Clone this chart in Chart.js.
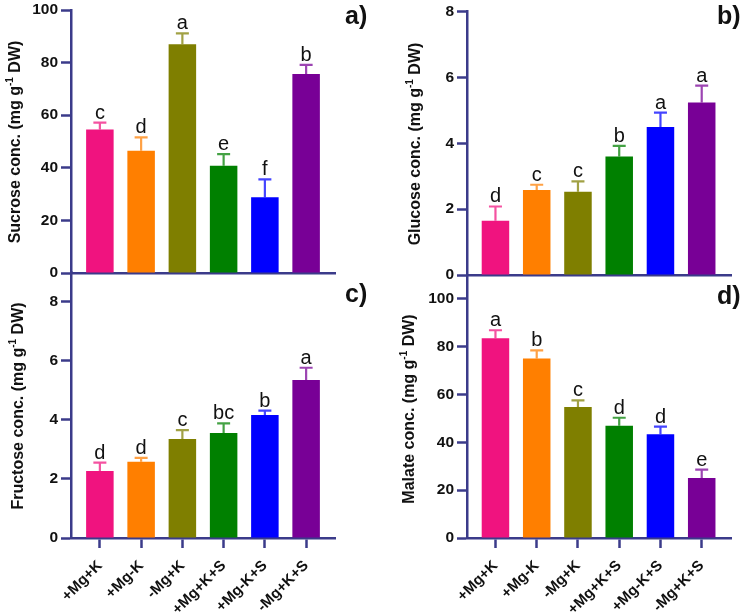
<!DOCTYPE html>
<html>
<head>
<meta charset="utf-8">
<script src="https://cdn.jsdelivr.net/npm/chart.js@4.4.0/dist/chart.umd.min.js"></script>
<style>
    html, body { margin: 0; padding: 0; background: #fff; }
    #wrap { position: relative; width: 744px; height: 615px; }
    #wrap canvas { position: absolute; left: 0; top: 0; }
</style>
</head>
<body>
<div id="wrap">
    <canvas id="chartA" width="744" height="615"></canvas>
    <canvas id="chartB" width="744" height="615"></canvas>
    <canvas id="chartC" width="744" height="615"></canvas>
    <canvas id="chartD" width="744" height="615"></canvas>
</div>
<script>
const treatments = ['+Mg+K', '+Mg-K', '-Mg+K', '+Mg+K+S', '+Mg-K+S', '-Mg+K+S'];
const barColors = ['#f0137f', '#ff7f00', '#7f7f00', '#008000', '#0000ff', '#780096'];

// a) sucrose
const sucrose = [54.6, 46.5, 87.0, 40.8, 28.8, 75.7];
const sucroseSd = [2.6, 5.1, 4.1, 4.4, 6.8, 3.4];
const sucroseLetters = ['c', 'd', 'a', 'e', 'f', 'b'];
const sucroseTicks = [0, 20, 40, 60, 80, 100];

// b) glucose
const glucose = [1.65, 2.58, 2.53, 3.60, 4.49, 5.24];
const glucoseSd = [0.43, 0.16, 0.31, 0.32, 0.44, 0.51];
const glucoseLetters = ['d', 'c', 'c', 'b', 'a', 'a'];
const glucoseTicks = [0, 2, 4, 6, 8];

// c) fructose
const fructose = [2.27, 2.58, 3.35, 3.55, 4.16, 5.35];
const fructoseSd = [0.28, 0.13, 0.30, 0.33, 0.15, 0.41];
const fructoseLetters = ['d', 'd', 'c', 'bc', 'b', 'a'];
const fructoseTicks = [0, 2, 4, 6, 8];

// d) malate
const malate = [83.5, 75.1, 54.8, 47.0, 43.4, 25.1];
const malateSd = [3.4, 3.4, 2.8, 3.3, 3.2, 3.5];
const malateLetters = ['a', 'b', 'c', 'd', 'd', 'e'];
const malateTicks = [0, 20, 40, 60, 80, 100];

const AXIS = '#3b3b8a';
const FONT = 'Arial, "Liberation Sans", sans-serif';
const Y_W = 60;
const X_H = 75;

function drawYTitle(ctx, cx, cy, before, sup, after) {
    ctx.save();
    ctx.translate(cx, cy);
    ctx.rotate(-Math.PI / 2);
    ctx.fillStyle = '#111';
    ctx.textBaseline = 'middle';
    ctx.textAlign = 'left';
    const big = `bold 16px ${FONT}`;
    const small = `bold 10px ${FONT}`;
    ctx.font = big;
    const w1 = ctx.measureText(before).width;
    const w3 = ctx.measureText(after).width;
    ctx.font = small;
    const w2 = ctx.measureText(sup).width;
    let x = -(w1 + w2 + w3) / 2;
    ctx.font = big;
    ctx.fillText(before, x, 0);
    x += w1;
    ctx.font = small;
    ctx.fillText(sup, x, -6);
    x += w2;
    ctx.font = big;
    ctx.fillText(after, x, 0);
    ctx.restore();
}

function makeDecor(p) {
    return {
        id: 'decor',
        afterDatasetsDraw(chart) {
            const ctx = chart.ctx;
            const xs = chart.scales.x;
            const ys = chart.scales.y;
            ctx.save();
            p.values.forEach((v, i) => {
                const px = xs.getPixelForValue(i);
                const base = ys.getPixelForValue(v);
                const top = ys.getPixelForValue(v + p.sd[i]);
                ctx.strokeStyle = barColors[i] + 'bb';
                ctx.lineWidth = 2.2;
                ctx.beginPath();
                ctx.moveTo(px, base);
                ctx.lineTo(px, top);
                ctx.moveTo(px - 6.5, top);
                ctx.lineTo(px + 6.5, top);
                ctx.stroke();

                ctx.fillStyle = '#111';
                ctx.font = `20px ${FONT}`;
                ctx.textAlign = 'center';
                ctx.textBaseline = 'alphabetic';
                ctx.fillText(p.letters[i], px, top - 4);
            });

            drawYTitle(ctx, p.titleX, p.titleY, p.title, '-1', ' DW)');

            ctx.fillStyle = '#111';
            ctx.font = `bold 25px ${FONT}`;
            ctx.textAlign = 'left';
            ctx.textBaseline = 'middle';
            ctx.fillText(p.label, p.labelX, p.labelY);
            ctx.restore();
        }
    };
}

function drawPanel(id, p) {
    const xH = p.showX ? X_H : 0;
    const resetPadding = (scale) => {
        scale.paddingLeft = 0;
        scale.paddingRight = 0;
        scale.paddingTop = 0;
        scale.paddingBottom = 0;
    };

    return new Chart(document.getElementById(id), {
        type: 'bar',
        data: {
            datasets: [{
                data: p.values.map((v, i) => ({ x: i, y: v })),
                backgroundColor: barColors,
                borderWidth: 0,
                categoryPercentage: 1,
                barPercentage: 0.667
            }]
        },
        options: {
            responsive: false,
            animation: false,
            events: [],
            layout: {
                autoPadding: false,
                padding: {
                    left: p.area.left - Y_W,
                    right: 744 - p.area.right,
                    top: p.area.top,
                    bottom: 615 - p.area.bottom - xH
                }
            },
            plugins: {
                legend: { display: false },
                tooltip: { enabled: false }
            },
            scales: {
                x: {
                    type: 'linear',
                    offset: false,
                    min: p.xMin,
                    max: p.xMax,
                    afterBuildTicks: (scale) => {
                        scale.ticks = treatments.map((t, i) => ({ value: i }));
                    },
                    afterFit: (scale) => {
                        scale.height = xH;
                        resetPadding(scale);
                    },
                    grid: {
                        display: p.showX,
                        offset: false,
                        drawOnChartArea: false,
                        drawTicks: p.showX,
                        tickLength: 10,
                        tickColor: AXIS,
                        tickWidth: 2.5
                    },
                    border: { display: true, color: AXIS, width: 2.5 },
                    ticks: {
                        display: p.showX,
                        autoSkip: false,
                        minRotation: 45,
                        maxRotation: 45,
                        padding: 9,
                        color: '#111',
                        font: { family: FONT, size: 15, weight: 'bold' },
                        callback: (v) => treatments[v]
                    }
                },
                y: {
                    min: 0,
                    max: p.yMax,
                    afterBuildTicks: (scale) => {
                        scale.ticks = p.yTicks.map((v) => ({ value: v }));
                    },
                    afterFit: (scale) => {
                        scale.width = Y_W;
                        resetPadding(scale);
                    },
                    grid: {
                        drawOnChartArea: false,
                        tickLength: 10,
                        tickColor: AXIS,
                        tickWidth: 2.5
                    },
                    border: { display: true, color: AXIS, width: 2.5 },
                    ticks: {
                        padding: 3,
                        color: '#111',
                        font: { family: FONT, size: 15.5, weight: 'bold' }
                    }
                }
            }
        },
        plugins: [makeDecor(p)]
    });
}

drawPanel('chartA', {
    values: sucrose, sd: sucroseSd, letters: sucroseLetters,
    yMax: 100, yTicks: sucroseTicks, xMin: -0.7, xMax: 5.7,
    area: { left: 71, right: 335, top: 10, bottom: 273 },
    showX: false,
    title: 'Sucrose conc. (mg g', titleX: 16, titleY: 142,
    label: 'a)', labelX: 345, labelY: 17
});

drawPanel('chartB', {
    values: glucose, sd: glucoseSd, letters: glucoseLetters,
    yMax: 8, yTicks: glucoseTicks, xMin: -0.69, xMax: 5.71,
    area: { left: 467, right: 731, top: 11.5, bottom: 275 },
    showX: false,
    title: 'Glucose conc. (mg g', titleX: 416, titleY: 144,
    label: 'b)', labelX: 717, labelY: 17
});

drawPanel('chartC', {
    values: fructose, sd: fructoseSd, letters: fructoseLetters,
    yMax: 9, yTicks: fructoseTicks, xMin: -0.7, xMax: 5.7,
    area: { left: 71, right: 335, top: 272, bottom: 538 },
    showX: true,
    title: 'Fructose conc. (mg g', titleX: 19, titleY: 406,
    label: 'c)', labelX: 345, labelY: 295
});

drawPanel('chartD', {
    values: malate, sd: malateSd, letters: malateLetters,
    yMax: 110, yTicks: malateTicks, xMin: -0.69, xMax: 5.71,
    area: { left: 467, right: 731, top: 275, bottom: 538 },
    showX: true,
    title: 'Malate conc. (mg g', titleX: 410, titleY: 409,
    label: 'd)', labelX: 717, labelY: 297
});
</script>
</body>
</html>
